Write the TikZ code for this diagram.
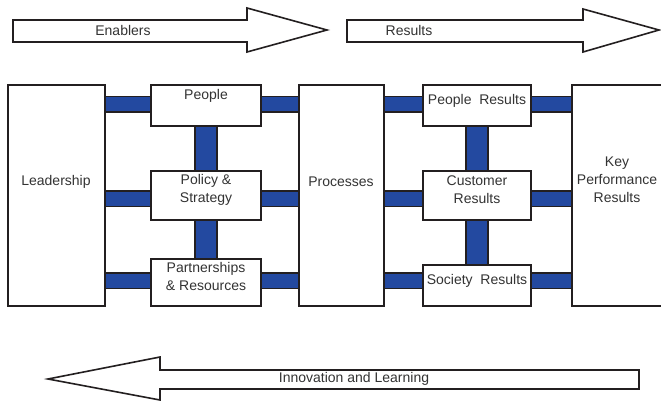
\documentclass[tikz,border=0pt]{standalone}
\usepackage{fontspec}
\setmainfont{Liberation Sans}
\usetikzlibrary{backgrounds}
\definecolor{barblue}{RGB}{35,73,160}
\definecolor{ink}{RGB}{35,31,32}
\begin{document}
\begin{tikzpicture}[x=1pt,y=-1pt,
    box/.style={draw=ink, line width=2pt, fill=white, inner sep=0pt},
    hbar/.style={draw=ink, line width=1.8pt, double=barblue, double distance=14pt},
    vbar/.style={draw=ink, line width=1.8pt, double=barblue, double distance=20.5pt},
    bigarrow/.style={draw=ink, line width=1.6pt, fill=white, line join=miter},
    lbl/.style={font=\fontsize{14}{18}\selectfont, text=black!80, align=center, inner sep=0pt}]
    \useasboundingbox (0,0) rectangle (661,401);
    % arrows
    \draw[bigarrow] (13,20) -- (247,20) -- (247,8) -- (327,30) -- (247,52) -- (247,42) -- (13,42) -- cycle;
    \node[lbl] (enablers) at (123,30) {Enablers};
    \draw[bigarrow] (347,20) -- (583,20) -- (583,9) -- (659,30) -- (583,52) -- (583,42) -- (347,42) -- cycle;
    \node[lbl] (results) at (409,30) {Results};
    \draw[bigarrow] (639,370) -- (160,370) -- (160,357) -- (48,379) -- (160,400) -- (160,389) -- (639,389) -- cycle;
    \node[lbl] (innov) at (354,379) {Innovation and Learning};
    % boxes
    \node[box, minimum width=97, minimum height=221] (lead) at (56.5,195.5) {};
    \node[box, minimum width=110, minimum height=41] (people) at (206,105.5) {};
    \node[box, minimum width=110, minimum height=49] (policy) at (206,195.5) {};
    \node[box, minimum width=110, minimum height=47] (partner) at (206,282.5) {};
    \node[box, minimum width=85, minimum height=221] (proc) at (341.5,195.5) {};
    \node[box, minimum width=108, minimum height=41] (peopleres) at (477,105.5) {};
    \node[box, minimum width=108, minimum height=49] (custres) at (477,195.5) {};
    \node[box, minimum width=108, minimum height=41] (socres) at (477,285.5) {};
    \node[box, minimum width=90, minimum height=221] (kpr) at (617,195.5) {};
    \node[lbl] (leadtxt) at (56,182) {Leadership};
    \node[lbl] (peopletxt) at (206,96) {People};
    \node[lbl] (policytxt) at (206,190) {Policy \&\\Strategy};
    \node[lbl] (partnertxt) at (206,276) {Partnerships\\\& Resources};
    \node[lbl] (proctxt) at (341,182) {Processes};
    \node[lbl] (peoplerestxt) at (477,101) {People\ \ Results};
    \node[lbl] (custrestxt) at (477,190) {Customer\\Results};
    \node[lbl] (socrestxt) at (477,281) {Society\ \ Results};
    \node[lbl] (kprtxt) at (617,180) {Key\\Performance\\Results};
    % bars
    \coordinate (row1) at (0,104.5);
    \coordinate (row2) at (0,198.5);
    \coordinate (row3) at (0,280.5);
    \begin{scope}[on background layer]
    \foreach \r/\a/\b in {row1/people/peopleres, row2/policy/custres, row3/partner/socres} {
        \draw[hbar] (lead.east |- \r) -- (\a.west |- \r);
        \draw[hbar] (\a.east |- \r) -- (proc.west |- \r);
        \draw[hbar] (proc.east |- \r) -- (\b.west |- \r);
        \draw[hbar] (\b.east |- \r) -- (kpr.west |- \r);
    }
    \draw[vbar] (people.south) -- (policy.north);
    \draw[vbar] (policy.south) -- (partner.north);
    \draw[vbar] (peopleres.south) -- (custres.north);
    \draw[vbar] (custres.south) -- (socres.north);
    \end{scope}
\end{tikzpicture}
\end{document}
